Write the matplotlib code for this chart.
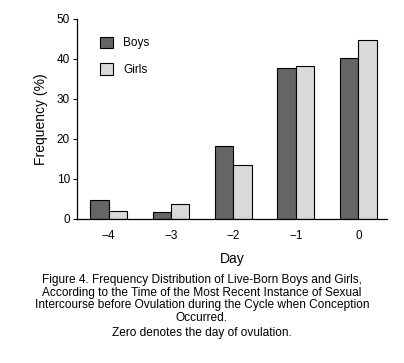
import matplotlib.pyplot as plt
import numpy as np
from matplotlib.patches import Patch

days = [-4, -3, -2, -1, 0]
day_labels = ['\u22124', '\u22123', '\u22122', '\u22121', '0']
boys = [4.8, 1.7, 18.2, 37.6, 40.3]
girls = [1.9, 3.6, 13.5, 38.2, 44.7]

plt.rcParams['font.family'] = ['Liberation Sans', 'DejaVu Sans']

fig = plt.figure(figsize=(4.04, 3.63), dpi=100)
ax = fig.add_axes([0.19, 0.397, 0.768, 0.551])

x = np.array(days)
w = 0.295
ax.bar(x - w / 2, boys, w, color='#656565', edgecolor='black', linewidth=0.8, label='Boys')
ax.bar(x + w / 2, girls, w, color='#d9d9d9', edgecolor='black', linewidth=0.8, label='Girls')

ax.set_xlim(-4.51, 0.46)
ax.set_ylim(0, 50)
ax.set_yticks([0, 10, 20, 30, 40, 50])
ax.set_xticks(days)
ax.set_xticklabels(day_labels)
ax.tick_params(axis='x', length=0, pad=8, labelsize=8.5)
ax.tick_params(axis='y', length=3, width=0.8, labelsize=8.5, pad=2)
for s in ['top', 'right']:
    ax.spines[s].set_visible(False)
for s in ['left', 'bottom']:
    ax.spines[s].set_linewidth(0.9)

ax.set_ylabel('Frequency (%)', fontsize=10, labelpad=6)
ax.set_xlabel('Day', fontsize=10, labelpad=7)

handles = [Patch(facecolor='#656565', edgecolor='black', linewidth=0.8),
           Patch(facecolor='#d9d9d9', edgecolor='black', linewidth=0.8)]
ax.legend(handles, ['Boys', 'Girls'], loc='upper left', bbox_to_anchor=(0.04, 0.965),
          frameon=False, fontsize=8.5, handlelength=1.1, handleheight=1.1,
          labelspacing=1.2, handletextpad=0.9)

caption = ('Figure 4. Frequency Distribution of Live-Born Boys and Girls,\n'
           'According to the Time of the Most Recent Instance of Sexual\n'
           'Intercourse before Ovulation during the Cycle when Conception\n'
           'Occurred.')
fig.text(0.5, 0.176, caption, ha='center', va='center', fontsize=8.6, linespacing=1.05)
fig.text(0.5, 0.083, 'Zero denotes the day of ovulation.', ha='center', va='center', fontsize=8.6)

fig.savefig('out.png', dpi=100)
